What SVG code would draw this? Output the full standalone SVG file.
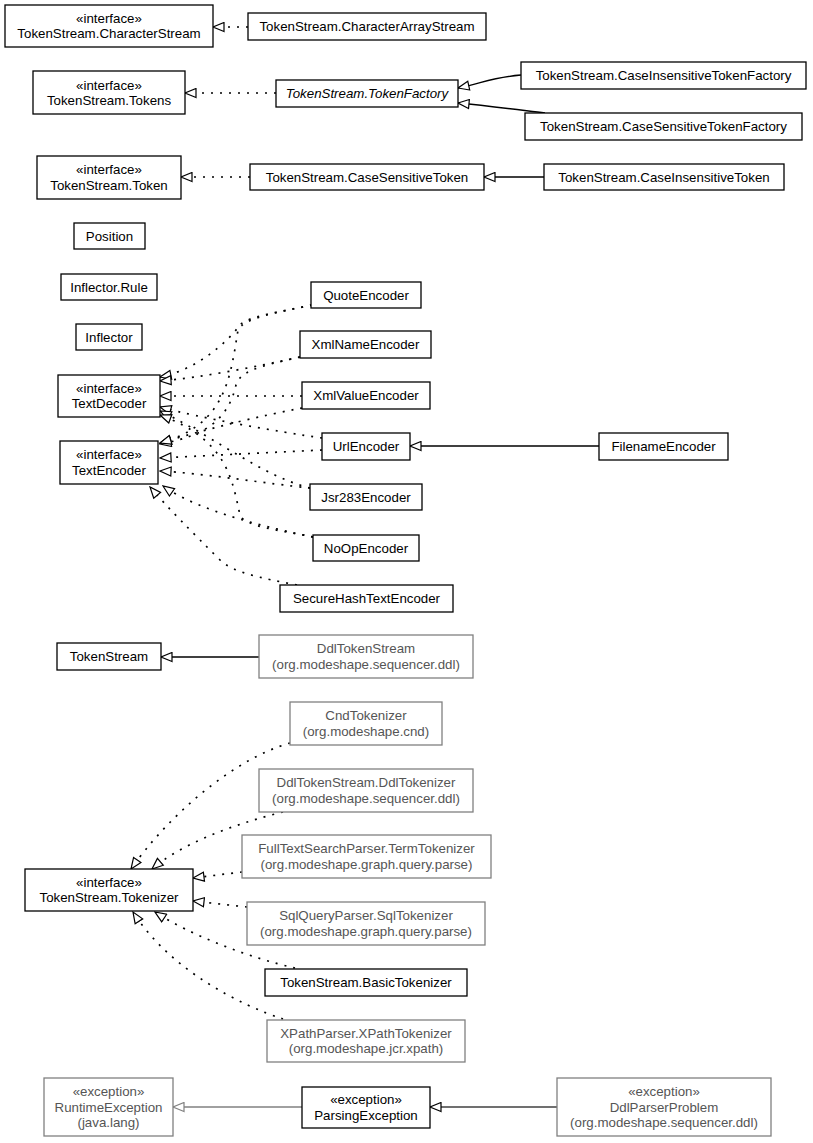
<svg xmlns="http://www.w3.org/2000/svg" width="813" height="1143" viewBox="0 0 813 1143">
<style>
rect{fill:#fff;stroke:#000;stroke-width:1.3}
.g rect{stroke:#808080}
text{font-family:"Liberation Sans",Arial,sans-serif;font-size:13.3px;text-anchor:middle;fill:#000}
.g text{fill:#555}
.it{font-style:italic}
.e path{fill:none;stroke:#000;stroke-width:1.3}
.e path.d{stroke-dasharray:2,7;stroke-width:1.7}
.e path.gr{stroke:#808080;stroke-width:1.6}
.e path.dg{stroke:#404040;stroke-width:1.6}
</style>
<defs>
<marker id="tri" viewBox="0 0 13 11" refX="12" refY="5.5" markerWidth="13" markerHeight="11" markerUnits="userSpaceOnUse" orient="auto"><path d="M1,1 L12,5.5 L1,10 Z" fill="#fff" stroke="#000" stroke-width="1.2" stroke-dasharray="none"/></marker>
<marker id="trig" viewBox="0 0 13 11" refX="12" refY="5.5" markerWidth="13" markerHeight="11" markerUnits="userSpaceOnUse" orient="auto"><path d="M1,1 L12,5.5 L1,10 Z" fill="#fff" stroke="#808080" stroke-width="1.2"/></marker>
</defs>
<g class="e" id="connectors">
<path class="d" d="M248,27 L213,27" marker-end="url(#tri)"/>
<path class="d" d="M276,93 L185,93" marker-end="url(#tri)"/>
<path d="M521,75 C495,77 485,82 458,88" marker-end="url(#tri)"/>
<path d="M545,113 C520,110 490,106 458,103" marker-end="url(#tri)"/>
<path class="d" d="M250,177 L181,177" marker-end="url(#tri)"/>
<path d="M544,177 L484,177" marker-end="url(#tri)"/>
<path d="M599,446 L410,446" marker-end="url(#tri)"/>
<path d="M259,657 L161,657" marker-end="url(#tri)"/>
<path class="d" d="M312,305 C280,312 248,316 240,325 C225,345 195,370 160,377" marker-end="url(#tri)"/>
<path class="d" d="M300,357 C260,366 200,378 160,381" marker-end="url(#tri)"/>
<path class="d" d="M302,396 L160,396" marker-end="url(#tri)"/>
<path class="d" d="M322,438 C280,432 200,418 160,407" marker-end="url(#tri)"/>
<path class="d" d="M310,488 C260,475 220,440 160,411" marker-end="url(#tri)"/>
<path class="d" d="M313,537 C280,530 245,527 240,515 C232,480 228,440 160,415" marker-end="url(#tri)"/>
<path class="d" d="M312,305 C275,313 244,318 238,330 C230,380 225,425 160,443" marker-end="url(#tri)"/>
<path class="d" d="M300,357 C255,367 240,372 236,385 C228,420 205,436 160,444" marker-end="url(#tri)"/>
<path class="d" d="M302,408 C260,416 210,428 160,443" marker-end="url(#tri)"/>
<path class="d" d="M322,450 C260,453 200,456 160,458" marker-end="url(#tri)"/>
<path class="d" d="M310,488 C270,484 200,473 160,471" marker-end="url(#tri)"/>
<path class="d" d="M313,537 C270,528 200,512 163,486" marker-end="url(#tri)"/>
<path class="d" d="M297,585 C260,578 232,572 220,560 C190,530 168,508 150,487" marker-end="url(#tri)"/>
<path class="d" d="M290,743 C230,760 165,820 131,869" marker-end="url(#tri)"/>
<path class="d" d="M283,812 C230,825 180,845 152,869" marker-end="url(#tri)"/>
<path class="d" d="M242,872 L193,878" marker-end="url(#tri)"/>
<path class="d" d="M247,907 L193,901" marker-end="url(#tri)"/>
<path class="d" d="M295,968 C250,958 190,935 155,912" marker-end="url(#tri)"/>
<path class="d" d="M283,1019 C240,1005 170,970 133,912" marker-end="url(#tri)"/>
<path class="gr" d="M302,1107 L173,1107" marker-end="url(#trig)"/>
<path class="dg" d="M557,1107 L430,1107" marker-end="url(#tri)"/>
</g>
<g id="n_charstream"><rect x="5" y="5" width="208" height="42"/><text x="109" y="22.5">«interface»</text><text x="109" y="38">TokenStream.CharacterStream</text></g>
<g id="n_chararray"><rect x="248" y="13" width="238" height="27"/><text x="367" y="31">TokenStream.CharacterArrayStream</text></g>
<g id="n_tokens"><rect x="33" y="71" width="152" height="43"/><text x="109" y="89.5">«interface»</text><text x="109" y="105">TokenStream.Tokens</text></g>
<g id="n_tokenfactory"><rect x="276" y="80" width="182" height="27"/><text class="it" x="367" y="98">TokenStream.TokenFactory</text></g>
<g id="n_citfactory"><rect x="521" y="62" width="285" height="27"/><text x="663.5" y="80">TokenStream.CaseInsensitiveTokenFactory</text></g>
<g id="n_cstfactory"><rect x="525" y="113" width="277" height="27"/><text x="663.5" y="131">TokenStream.CaseSensitiveTokenFactory</text></g>
<g id="n_token"><rect x="37" y="156" width="144" height="43"/><text x="109" y="174">«interface»</text><text x="109" y="189.5">TokenStream.Token</text></g>
<g id="n_cstoken"><rect x="250" y="164" width="234" height="26"/><text x="367" y="181.5">TokenStream.CaseSensitiveToken</text></g>
<g id="n_citoken"><rect x="544" y="164" width="240" height="26"/><text x="664" y="181.5">TokenStream.CaseInsensitiveToken</text></g>
<g id="n_position"><rect x="74" y="223" width="71" height="26"/><text x="109.5" y="240.5">Position</text></g>
<g id="n_inflrule"><rect x="61" y="274" width="96" height="26"/><text x="109" y="291.5">Inflector.Rule</text></g>
<g id="n_inflector"><rect x="76" y="324" width="66" height="26"/><text x="109" y="341.5">Inflector</text></g>
<g id="n_textdecoder"><rect x="58" y="375" width="102" height="42"/><text x="109" y="392.5">«interface»</text><text x="109" y="408">TextDecoder</text></g>
<g id="n_textencoder"><rect x="60" y="441" width="98" height="43"/><text x="109" y="459">«interface»</text><text x="109" y="474.5">TextEncoder</text></g>
<g id="n_quote"><rect x="311" y="282" width="110" height="26"/><text x="366" y="299.5">QuoteEncoder</text></g>
<g id="n_xmlname"><rect x="300" y="331" width="131" height="27"/><text x="365.5" y="349">XmlNameEncoder</text></g>
<g id="n_xmlvalue"><rect x="302" y="382" width="128" height="27"/><text x="366" y="400">XmlValueEncoder</text></g>
<g id="n_url"><rect x="322" y="433" width="88" height="27"/><text x="366" y="451">UrlEncoder</text></g>
<g id="n_filename"><rect x="599" y="433" width="129" height="27"/><text x="663.5" y="451">FilenameEncoder</text></g>
<g id="n_jsr"><rect x="310" y="484" width="112" height="26"/><text x="366" y="501.5">Jsr283Encoder</text></g>
<g id="n_noop"><rect x="313" y="535" width="106" height="26"/><text x="366" y="552.5">NoOpEncoder</text></g>
<g id="n_securehash"><rect x="280" y="585" width="173" height="27"/><text x="366.5" y="603">SecureHashTextEncoder</text></g>
<g id="n_tokenstream"><rect x="57" y="643" width="104" height="27"/><text x="109" y="661">TokenStream</text></g>
<g id="n_ddltokenstream" class="g"><rect x="259" y="635" width="214" height="43"/><text x="366" y="653">DdlTokenStream</text><text x="366" y="668.5">(org.modeshape.sequencer.ddl)</text></g>
<g id="n_cnd" class="g"><rect x="290" y="702" width="152" height="43"/><text x="366" y="720">CndTokenizer</text><text x="366" y="735.5">(org.modeshape.cnd)</text></g>
<g id="n_ddltokenizer" class="g"><rect x="259" y="769" width="214" height="43"/><text x="366" y="787">DdlTokenStream.DdlTokenizer</text><text x="366" y="802.5">(org.modeshape.sequencer.ddl)</text></g>
<g id="n_fulltext" class="g"><rect x="242" y="835" width="249" height="43"/><text x="366.5" y="853">FullTextSearchParser.TermTokenizer</text><text x="366.5" y="868.5">(org.modeshape.graph.query.parse)</text></g>
<g id="n_sql" class="g"><rect x="247" y="902" width="238" height="43"/><text x="366" y="920">SqlQueryParser.SqlTokenizer</text><text x="366" y="935.5">(org.modeshape.graph.query.parse)</text></g>
<g id="n_basic"><rect x="265" y="969" width="202" height="27"/><text x="366" y="987">TokenStream.BasicTokenizer</text></g>
<g id="n_xpath" class="g"><rect x="267" y="1020" width="198" height="42"/><text x="366" y="1037.5">XPathParser.XPathTokenizer</text><text x="366" y="1053">(org.modeshape.jcr.xpath)</text></g>
<g id="n_tokenizer"><rect x="25" y="869" width="168" height="42"/><text x="109" y="886.5">«interface»</text><text x="109" y="902">TokenStream.Tokenizer</text></g>
<g id="n_runtime" class="g"><rect x="44" y="1078" width="129" height="58"/><text x="108.5" y="1096">«exception»</text><text x="108.5" y="1111.5">RuntimeException</text><text x="108.5" y="1127">(java.lang)</text></g>
<g id="n_parsing"><rect x="302" y="1087" width="128" height="41"/><text x="366" y="1104">«exception»</text><text x="366" y="1119.5">ParsingException</text></g>
<g id="n_ddlproblem" class="g"><rect x="557" y="1078" width="214" height="58"/><text x="664" y="1096">«exception»</text><text x="664" y="1111.5">DdlParserProblem</text><text x="664" y="1127">(org.modeshape.sequencer.ddl)</text></g>
</svg>
